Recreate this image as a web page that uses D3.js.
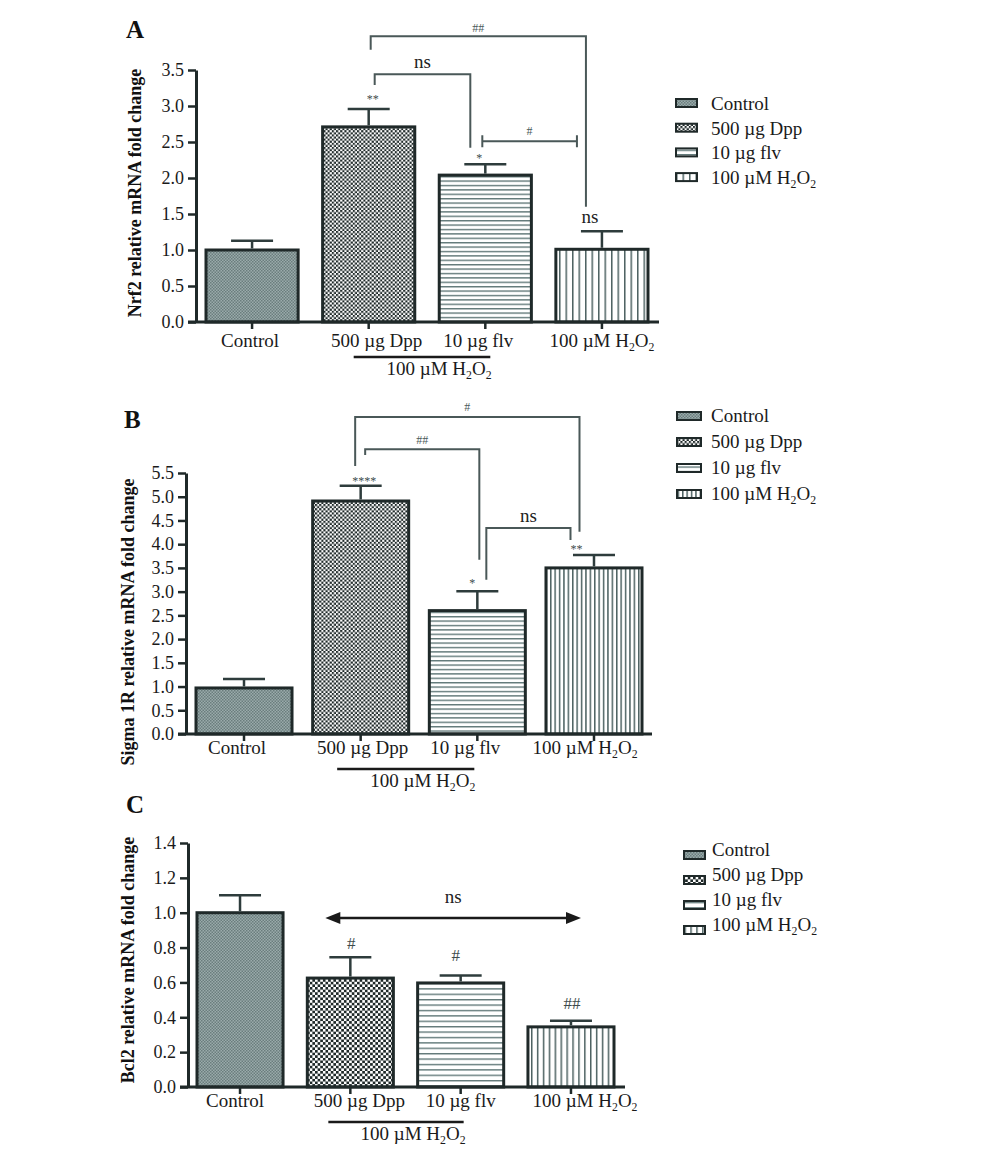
<!DOCTYPE html>
<html>
<head>
<meta charset="utf-8">
<script src="https://cdn.jsdelivr.net/npm/d3@7"></script>
<style>
  body { margin: 0; background: #fff; }
  svg { display: block; font-family: "Liberation Serif", "Times New Roman", serif; }
</style>
</head>
<body>
<svg id="chart" width="1000" height="1153"></svg>
<script>
// Datos
const groups = ["Control", "500 µg Dpp", "10 µg flv", "100 µM H2O2"];

const nrf2Means  = [1.00, 2.71, 2.04, 1.01];
const nrf2Errors = [0.13, 0.25, 0.15, 0.25];
const nrf2Ticks  = [0, 0.5, 1.0, 1.5, 2.0, 2.5, 3.0, 3.5];

const sigmaMeans  = [0.97, 4.91, 2.60, 3.50];
const sigmaErrors = [0.19, 0.32, 0.41, 0.27];
const sigmaTicks  = [0, 0.5, 1.0, 1.5, 2.0, 2.5, 3.0, 3.5, 4.0, 4.5, 5.0, 5.5];

const bcl2Means  = [1.00, 0.625, 0.597, 0.345];
const bcl2Errors = [0.10, 0.12, 0.043, 0.035];
const bcl2Ticks  = [0, 0.2, 0.4, 0.6, 0.8, 1.0, 1.2, 1.4];

const svg = d3.select("#chart");
const defs = svg.append("defs");

const ink = "#1f2929";
const lineGray = "#4a5858";

// Patrones de relleno de las barras
function addPatterns(id, s, hStep, vStep) {
  const p0 = defs.append("pattern").attr("id", id + "-0")
    .attr("patternUnits", "userSpaceOnUse").attr("width", 3).attr("height", 3);
  p0.append("rect").attr("width", 3).attr("height", 3).attr("fill", "#9aabab");
  p0.append("rect").attr("width", 1.5).attr("height", 1.5).attr("fill", "#6a7d7d");
  p0.append("rect").attr("x", 1.5).attr("y", 1.5).attr("width", 1.5).attr("height", 1.5).attr("fill", "#6a7d7d");

  const c = 4.2 * s;
  const p1 = defs.append("pattern").attr("id", id + "-1")
    .attr("patternUnits", "userSpaceOnUse").attr("width", c).attr("height", c);
  p1.append("rect").attr("width", c).attr("height", c).attr("fill", "#fff");
  p1.append("rect").attr("width", c / 2).attr("height", c / 2).attr("fill", "#1e2828");
  p1.append("rect").attr("x", c / 2).attr("y", c / 2).attr("width", c / 2).attr("height", c / 2).attr("fill", "#1e2828");

  const p2 = defs.append("pattern").attr("id", id + "-2")
    .attr("patternUnits", "userSpaceOnUse").attr("width", 4).attr("height", hStep);
  p2.append("rect").attr("width", 4).attr("height", hStep).attr("fill", "#fff");
  p2.append("rect").attr("width", 4).attr("height", 1.4).attr("fill", "#617878");

  const p3 = defs.append("pattern").attr("id", id + "-3")
    .attr("patternUnits", "userSpaceOnUse").attr("width", vStep).attr("height", 4);
  p3.append("rect").attr("width", vStep).attr("height", 4).attr("fill", "#fff");
  p3.append("rect").attr("width", 1.5).attr("height", 4).attr("fill", "#4d6262");
}

// Texto con subindices para H2O2
function richText(sel, label) {
  const k = label.indexOf("H2O2");
  if (k < 0) { sel.text(label); return; }
  sel.append("tspan").text(label.slice(0, k) + "H");
  sel.append("tspan").attr("dy", 4).attr("font-size", "0.62em").text("2");
  sel.append("tspan").attr("dy", -4).text("O");
  sel.append("tspan").attr("dy", 4).attr("font-size", "0.62em").text("2");
}

const panels = [
  {
    id: "pa", letter: "A", letterPos: [126, 38],
    means: nrf2Means, errors: nrf2Errors, ticks: nrf2Ticks, yMax: 3.5,
    title: "Nrf2 relative mRNA fold change", titleX: 135, titleY: 193,
    top: 70, bottom: 322, axisX: 196, axisEnd: 659, band: [206, 648], pad: 0.21,
    labelDx: [-2, 8, -7, 0], labelDy: 25, ul: [-15, 5],
    pattern: [1, 4.4, 6.5],
    legend: { x: 676, y: 103, w: 21, step: 24.7, textX: 711, textDy: 7 },
    brackets: [
      { i1: 1, d1: 2, i2: 3, d2: -16, top: 3.97, b1: 3.78, b2: 1.60, label: "##", size: 12, gap: 4 },
      { i1: 1, d1: 6, i2: 2, d2: -15, top: 3.44, b1: 3.29, b2: 2.42, label: "ns", size: 19, gap: 6 }
    ],
    spans: [
      { i1: 2, d1: -3, i2: 3, d2: -25, v: 2.51, label: "#", size: 12, gap: 6 }
    ],
    marks: [
      { i: 1, d: 4, v: 3.04, text: "**", size: 12, gray: true },
      { i: 2, d: -6, v: 2.22, text: "*", size: 12, gray: true },
      { i: 3, d: -12, v: 1.375, text: "ns", size: 19 }
    ],
    arrows: []
  },
  {
    id: "pb", letter: "B", letterPos: [124, 428],
    means: sigmaMeans, errors: sigmaErrors, ticks: sigmaTicks, yMax: 5.5,
    title: "Sigma 1R relative mRNA fold change", titleX: 128, titleY: 622,
    top: 473, bottom: 734, axisX: 186, axisEnd: 652, band: [196, 642], pad: 0.177,
    labelDx: [-7, 2, -12, -9], labelDy: 20, ul: [-23.5, -3],
    pattern: [1, 4.4, 4.4],
    legend: { x: 677, y: 416, w: 24, step: 26, textX: 711, textDy: 6 },
    brackets: [
      { i1: 1, d1: -5.5, i2: 3, d2: -14.5, top: 6.68, b1: 5.65, b2: 4.26, label: "#", size: 12, gap: 6 },
      { i1: 1, d1: 4.5, i2: 2, d2: 2, top: 6.0, b1: 5.88, b2: 3.67, label: "##", size: 12, gap: 5 },
      { i1: 2, d1: 9, i2: 3, d2: -23.5, top: 4.34, b1: 3.25, b2: 4.09, label: "ns", size: 19, gap: 6 }
    ],
    spans: [],
    marks: [
      { i: 1, d: 3.5, v: 5.25, text: "****", size: 12, gray: true },
      { i: 2, d: -5, v: 3.10, text: "*", size: 12, gray: true },
      { i: 3, d: -17.5, v: 3.81, text: "**", size: 12, gray: true }
    ],
    arrows: []
  },
  {
    id: "pc", letter: "C", letterPos: [126, 813],
    means: bcl2Means, errors: bcl2Errors, ticks: bcl2Ticks, yMax: 1.4,
    title: "Bcl2 relative mRNA fold change", titleX: 128, titleY: 960,
    top: 843, bottom: 1087, axisX: 188, axisEnd: 625, band: [197, 614], pad: 0.22,
    labelDx: [-5, 9, 0, 14], labelDy: 20, ul: [-22, 3],
    pattern: [1.25, 5.4, 5.9],
    legend: { x: 684, y: 855, w: 21, step: 25, textX: 712, textDy: 1 },
    brackets: [],
    spans: [],
    marks: [
      { i: 1, d: 1, v: 0.79, text: "#", size: 17, gray: true },
      { i: 2, d: -5, v: 0.723, text: "#", size: 17, gray: true },
      { i: 3, d: 1, v: 0.447, text: "##", size: 17, gray: true }
    ],
    arrows: [
      { i1: 1, d1: -25, i2: 3, d2: 10, v: 0.97, label: "ns", lv: 1.056 }
    ]
  }
];

function drawPanel(p) {
  addPatterns(p.id, p.pattern[0], p.pattern[1], p.pattern[2]);
  const g = svg.append("g");

  const x = d3.scaleBand().domain(groups).range(p.band).paddingInner(p.pad).paddingOuter(0);
  const y = d3.scaleLinear().domain([0, p.yMax]).range([p.bottom, p.top]);
  const cx = i => x(groups[i]) + x.bandwidth() / 2;

  // Letra del panel
  g.append("text").attr("x", p.letterPos[0]).attr("y", p.letterPos[1])
    .attr("font-size", 25).attr("font-weight", "bold").attr("fill", "#111")
    .text(p.letter);

  // Titulo del eje Y
  g.append("text")
    .attr("transform", `translate(${p.titleX},${p.titleY}) rotate(-90)`)
    .attr("text-anchor", "middle").attr("dominant-baseline", "central")
    .attr("font-size", 18).attr("font-weight", "bold").attr("fill", "#111")
    .text(p.title);

  // Barras
  g.selectAll(".bar").data(p.means).join("rect")
    .attr("x", (d, i) => x(groups[i]))
    .attr("y", d => y(d))
    .attr("width", x.bandwidth())
    .attr("height", d => y(0) - y(d))
    .attr("fill", (d, i) => `url(#${p.id}-${i})`)
    .attr("stroke", ink).attr("stroke-width", 3);

  // Barras de error
  const eb = g.selectAll(".err").data(p.means).join("g");
  eb.append("line")
    .attr("x1", (d, i) => cx(i)).attr("x2", (d, i) => cx(i))
    .attr("y1", d => y(d) - 1.5).attr("y2", (d, i) => y(d + p.errors[i]))
    .attr("stroke", "#2e3c3c").attr("stroke-width", 2.5);
  eb.append("line")
    .attr("x1", (d, i) => cx(i) - 21).attr("x2", (d, i) => cx(i) + 21)
    .attr("y1", (d, i) => y(d + p.errors[i])).attr("y2", (d, i) => y(d + p.errors[i]))
    .attr("stroke", "#2e3c3c").attr("stroke-width", 2.5);

  // Eje Y
  const yAxis = g.append("g").attr("transform", `translate(${p.axisX},0)`)
    .call(d3.axisLeft(y).tickValues(p.ticks).tickFormat(d3.format(".1f"))
      .tickSize(8).tickSizeOuter(0).tickPadding(4));
  yAxis.select(".domain").attr("stroke", ink).attr("stroke-width", 3);
  yAxis.selectAll(".tick line").attr("stroke", ink).attr("stroke-width", 2.5);
  yAxis.selectAll(".tick text").attr("font-size", 18).attr("fill", "#1a1a1a")
    .attr("font-family", "Liberation Serif, serif");

  // Eje X
  g.append("line").attr("x1", p.axisX - 8).attr("x2", p.axisEnd)
    .attr("y1", p.bottom).attr("y2", p.bottom)
    .attr("stroke", ink).attr("stroke-width", 3);
  const xAxis = g.append("g").attr("transform", `translate(0,${p.bottom})`)
    .call(d3.axisBottom(x).tickSize(7).tickFormat(""));
  xAxis.select(".domain").remove();
  xAxis.selectAll(".tick line").attr("stroke", ink).attr("stroke-width", 2.5);

  groups.forEach((lab, i) => {
    const t = g.append("text").attr("x", cx(i) + p.labelDx[i]).attr("y", p.bottom + p.labelDy)
      .attr("text-anchor", "middle").attr("font-size", 19).attr("fill", "#1a1a1a");
    richText(t, lab);
  });

  // Linea de grupo tratado con H2O2
  const ux1 = cx(1) + p.ul[0], ux2 = cx(2) + p.ul[1];
  g.append("line").attr("x1", ux1).attr("x2", ux2)
    .attr("y1", p.bottom + 35).attr("y2", p.bottom + 35)
    .attr("stroke", "#1a1a1a").attr("stroke-width", 2.5);
  const sub = g.append("text").attr("x", (ux1 + ux2) / 2 + 17).attr("y", p.bottom + 53)
    .attr("text-anchor", "middle").attr("font-size", 19).attr("fill", "#1a1a1a");
  richText(sub, "100 µM H2O2");

  // Corchetes de significancia
  p.brackets.forEach(b => {
    const x1 = cx(b.i1) + b.d1, x2 = cx(b.i2) + b.d2;
    g.append("path")
      .attr("d", `M${x1},${y(b.b1)}V${y(b.top)}H${x2}V${y(b.b2)}`)
      .attr("fill", "none").attr("stroke", lineGray).attr("stroke-width", 2);
    g.append("text").attr("x", (x1 + x2) / 2).attr("y", y(b.top) - b.gap)
      .attr("text-anchor", "middle").attr("font-size", b.size)
      .attr("fill", b.size < 14 ? "#4a5a5a" : "#222").text(b.label);
  });

  p.spans.forEach(s => {
    const x1 = cx(s.i1) + s.d1, x2 = cx(s.i2) + s.d2, yy = y(s.v);
    g.append("path")
      .attr("d", `M${x1},${yy - 6}V${yy + 6}M${x1},${yy}H${x2}M${x2},${yy - 6}V${yy + 6}`)
      .attr("fill", "none").attr("stroke", lineGray).attr("stroke-width", 2);
    g.append("text").attr("x", (x1 + x2) / 2).attr("y", yy - s.gap)
      .attr("text-anchor", "middle").attr("font-size", s.size)
      .attr("fill", "#4a5a5a").text(s.label);
  });

  p.marks.forEach(m => {
    g.append("text").attr("x", cx(m.i) + m.d).attr("y", y(m.v))
      .attr("text-anchor", "middle").attr("font-size", m.size)
      .attr("fill", m.gray ? "#3e4c4c" : "#222").text(m.text);
  });

  p.arrows.forEach(a => {
    const x1 = cx(a.i1) + a.d1, x2 = cx(a.i2) + a.d2, yy = y(a.v);
    g.append("line").attr("x1", x1 + 10).attr("x2", x2 - 10).attr("y1", yy).attr("y2", yy)
      .attr("stroke", "#1a1a1a").attr("stroke-width", 2.5);
    g.append("path").attr("d", `M${x1},${yy}L${x1 + 15},${yy - 6}L${x1 + 15},${yy + 6}Z`).attr("fill", "#1a1a1a");
    g.append("path").attr("d", `M${x2},${yy}L${x2 - 15},${yy - 6}L${x2 - 15},${yy + 6}Z`).attr("fill", "#1a1a1a");
    g.append("text").attr("x", (x1 + x2) / 2).attr("y", y(a.lv))
      .attr("text-anchor", "middle").attr("font-size", 19).attr("fill", "#222").text(a.label);
  });

  // Leyenda
  const L = p.legend;
  groups.forEach((lab, i) => {
    const yy = L.y + i * L.step;
    g.append("rect").attr("x", L.x).attr("y", yy - 4).attr("width", L.w).attr("height", 8)
      .attr("fill", `url(#${p.id}-${i})`).attr("stroke", ink).attr("stroke-width", 2);
    const t = g.append("text").attr("x", L.textX).attr("y", yy + L.textDy)
      .attr("font-size", 19).attr("fill", "#1a1a1a");
    richText(t, lab);
  });
}

panels.forEach(drawPanel);
</script>
</body>
</html>
